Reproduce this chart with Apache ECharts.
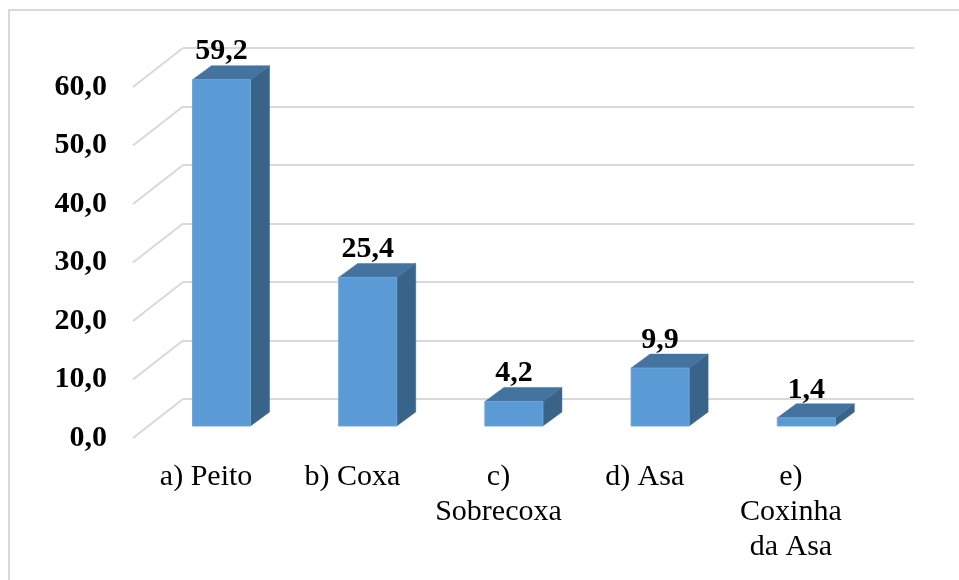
<!DOCTYPE html>
<html>
<head>
<meta charset="utf-8">
<script src="https://cdn.jsdelivr.net/npm/echarts@6/dist/echarts.min.js"></script>
<style>
html,body{margin:0;padding:0;background:#fff;}
#chart{width:959px;height:580px;}
</style>
</head>
<body>
<div id="chart"></div>
<script>
const categories = ['a) Peito', 'b) Coxa', 'c)\nSobrecoxa', 'd) Asa', 'e)\nCoxinha\nda Asa'];
const values = [59.2, 25.4, 4.2, 9.9, 1.4];
const yMin = 0, yMax = 60, yStep = 10;
const gridTicks = [0, 10, 20, 30, 40, 50, 60];

const FONT = "'Liberation Serif', 'Times New Roman', serif";
const FS = 30;
const fmt = v => v.toFixed(1).replace('.', ',');

// 3D projection offsets (pixels)
const WALL_DX = 50, WALL_DY = -39;   // front plane -> back wall
const BAR_FX = 15.4, BAR_FY = -12;   // front plane -> bar front face
const BAR_DX = 19, BAR_DY = -14;     // bar depth
const BAR_FRAC = 0.397;

const chart = echarts.init(document.getElementById('chart'), null, {renderer: 'canvas'});

const option = {
  backgroundColor: '#fff',
  animation: false,
  graphic: [{
    type: 'rect', z: -10, silent: true,
    shape: {x: 9, y: 10, width: 1000, height: 620},
    style: {fill: 'none', stroke: '#D9D9D9', lineWidth: 2}
  }],
  grid: [
    {left: 133, top: 87, width: 731, height: 351},
    {left: 183, top: 48, width: 731, height: 351}
  ],
  xAxis: [
    {type: 'category', gridIndex: 0, data: categories,
     axisLine: {show: false}, axisTick: {show: false},
     axisLabel: {fontFamily: FONT, fontSize: FS, color: '#000', lineHeight: 35, margin: 22, interval: 0, verticalAlign: 'top'}},
    {type: 'category', gridIndex: 1, data: categories, show: false}
  ],
  yAxis: [
    {type: 'value', gridIndex: 0, min: yMin, max: yMax, interval: yStep,
     axisLine: {show: false}, axisTick: {show: false}, splitLine: {show: false},
     axisLabel: {formatter: v => fmt(v), fontFamily: FONT, fontSize: FS, fontWeight: 'bold', color: '#000', margin: 26}},
    {type: 'value', gridIndex: 1, min: yMin, max: yMax, interval: yStep,
     axisLine: {show: false}, axisTick: {show: false}, axisLabel: {show: false},
     splitLine: {show: true, lineStyle: {color: '#D9D9D9', width: 2}}}
  ],
  series: [
    {
      type: 'custom', xAxisIndex: 0, yAxisIndex: 0, silent: true, z: 1,
      data: gridTicks.map(v => [0, v]),
      renderItem: function (params, api) {
        const c = api.coord([0, api.value(1)]);
        const bw = api.size([1, 0])[0];
        const x0 = c[0] - bw / 2;
        return {
          type: 'line',
          shape: {x1: x0, y1: c[1], x2: x0 + WALL_DX, y2: c[1] + WALL_DY},
          style: {stroke: '#D9D9D9', lineWidth: 2}
        };
      }
    },
    {
      type: 'custom', xAxisIndex: 0, yAxisIndex: 0, silent: true, z: 5,
      data: values.map((v, i) => [i, v]),
      renderItem: function (params, api) {
        const idx = api.value(0), val = api.value(1);
        const top = api.coord([idx, val]);
        const base = api.coord([idx, 0]);
        const bw = api.size([1, 0])[0] * BAR_FRAC;
        const cx = top[0] + BAR_FX;
        const x1 = cx - bw / 2, x2 = cx + bw / 2;
        const yt = top[1] + BAR_FY, yb = base[1] + BAR_FY;
        return {
          type: 'group',
          children: [
            {type: 'polygon', shape: {points: [[x2, yt], [x2 + BAR_DX, yt + BAR_DY], [x2 + BAR_DX, yb + BAR_DY], [x2, yb]]},
             style: {fill: '#3A6389', stroke: '#3A6389', lineWidth: 0.5}},
            {type: 'polygon', shape: {points: [[x1, yt], [x1 + BAR_DX, yt + BAR_DY], [x2 + BAR_DX, yt + BAR_DY], [x2, yt]]},
             style: {fill: '#44739F', stroke: '#44739F', lineWidth: 0.5}},
            {type: 'rect', shape: {x: x1, y: yt, width: bw, height: yb - yt},
             style: {fill: '#5B9BD5', stroke: '#6BA6DA', lineWidth: 1}},
            {type: 'text', x: cx, y: yt - 28,
             style: {text: fmt(val), fontFamily: FONT, fontSize: FS, fontWeight: 'bold', fill: '#000', align: 'center', verticalAlign: 'middle'}}
          ]
        };
      }
    }
  ]
};
chart.setOption(option);
</script>
</body>
</html>
